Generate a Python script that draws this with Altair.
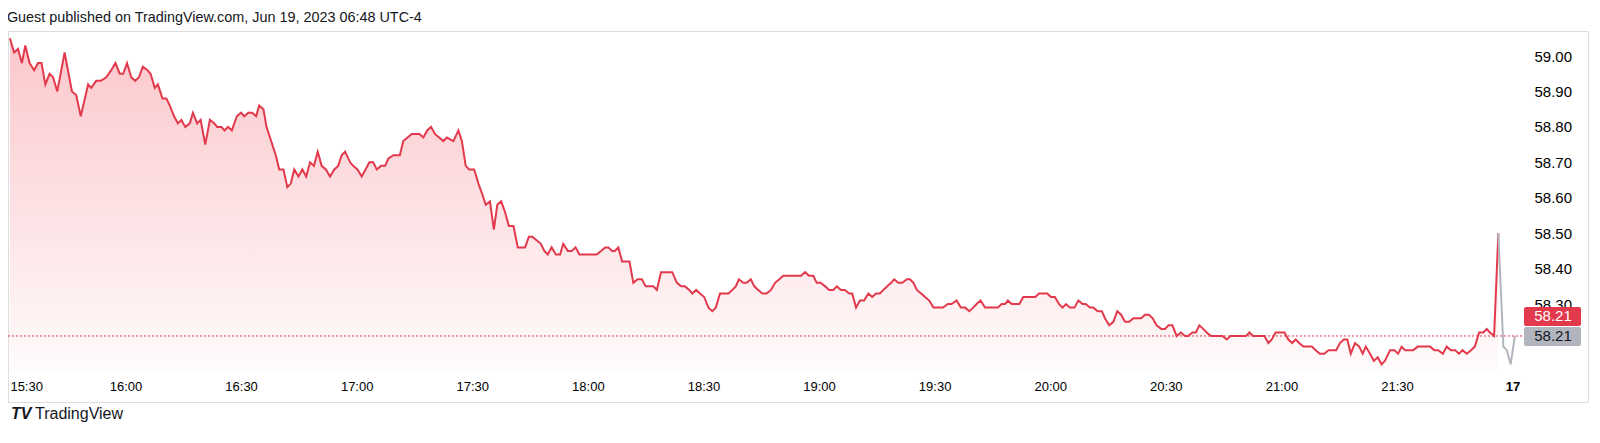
import altair as alt
import pandas as pd

title_text = "Guest published on TradingView.com, Jun 19, 2023 06:48 UTC-4"
brand = "TradingView"

# minutes after 15:30 and last price of the regular session (red series)
minutes = [
    0.0, 1.1, 2.1, 3.1, 4.0, 5.1, 6.3, 7.3, 8.2, 9.2, 10.3, 11.2, 12.3, 14.2, 16.1, 17.2, 18.4,
    20.3, 21.1, 22.4, 23.6, 25.0, 26.3, 27.4, 28.5, 29.4, 30.4, 31.5, 32.5, 33.5, 34.5, 35.7,
    36.5, 37.6, 38.4, 39.6, 40.6, 41.5, 42.6, 43.6, 44.5, 45.5, 46.7, 47.5, 48.6, 49.5, 50.7,
    51.9, 53.0, 53.8, 54.9, 55.7, 56.6, 57.6, 58.9, 60.0, 60.8, 61.9, 62.9, 63.9, 64.7, 65.8,
    66.6, 67.5, 68.4, 69.0, 69.9, 71.0, 72.0, 72.9, 73.8, 74.9, 75.9, 76.9, 77.9, 78.9, 79.9,
    80.9, 82.0, 83.1, 84.2, 85.2, 86.1, 87.0, 88.3, 89.1, 90.2, 91.3, 92.3, 93.3, 94.3, 95.2,
    96.3, 97.4, 98.2, 99.5, 100.4, 101.2, 102.1, 103.2, 104.3, 105.3, 106.3, 107.3, 108.3,
    109.3, 110.3, 111.4, 112.5, 113.4, 115.1, 116.4, 117.3, 118.3, 119.2, 120.5, 121.6, 122.6,
    123.5, 124.6, 125.6, 126.5, 127.5, 128.5, 129.5, 130.7, 131.8, 132.8, 133.7, 134.7, 135.6,
    136.7, 137.8, 138.7, 139.6, 140.6, 141.7, 142.8, 143.6, 144.8, 145.8, 146.8, 147.8, 149.3,
    151.0, 152.3, 153.4, 154.5, 155.3, 156.3, 157.0, 157.9, 158.9, 159.8, 160.8, 161.8, 162.9,
    164.0, 165.0, 166.1, 167.0, 167.9, 169.0, 170.0, 170.9, 171.9, 173.1, 174.2, 175.2, 176.3,
    177.1, 178.1, 179.1, 180.2, 181.3, 182.3, 183.2, 184.3, 185.3, 186.5, 187.5, 188.4, 189.2,
    190.3, 191.2, 192.3, 193.2, 194.2, 195.3, 196.4, 197.5, 198.6, 199.7, 200.7, 201.6, 202.7,
    203.8, 204.5, 205.3, 206.4, 207.4, 208.5, 209.4, 210.4, 211.6, 212.6, 213.7, 214.6, 215.7,
    216.7, 217.8, 218.6, 219.6, 220.6, 221.7, 222.8, 223.8, 224.8, 225.8, 226.7, 227.7, 228.7,
    229.5, 230.6, 231.6, 232.8, 233.6, 234.5, 235.4, 236.5, 237.5, 238.6, 239.7, 240.9, 242.2,
    243.4, 244.4, 245.7, 246.8, 247.9, 249.0, 250.0, 250.9, 251.9, 253.1, 254.2, 255.2, 256.4,
    257.4, 258.3, 259.0, 260.0, 261.1, 262.0, 263.0, 264.1, 265.2, 266.1, 267.1, 268.2, 269.2,
    270.2, 271.2, 272.3, 273.2, 274.1, 275.1, 276.3, 277.3, 278.4, 279.2, 280.3, 281.2, 282.3,
    283.4, 284.2, 285.3, 286.4, 287.4, 288.4, 289.4, 290.5, 291.6, 292.6, 293.6, 294.6, 295.6,
    296.6, 297.6, 298.8, 299.8, 300.7, 301.7, 302.8, 303.9, 305.0, 305.8, 306.9, 307.8, 308.7,
    309.7, 310.6, 311.7, 312.8, 313.8, 314.7, 315.8, 316.8, 317.8, 318.8, 319.9, 320.8, 321.7,
    322.6, 323.6, 324.6, 325.6, 326.6, 327.5, 328.5, 329.6, 330.8, 331.8, 332.8, 333.7, 334.6,
    335.7, 336.8, 337.9, 338.9, 340.0, 341.1, 342.2, 343.2, 344.2, 345.2, 346.2, 347.1, 348.0,
    349.1, 350.2, 351.1, 351.9, 353.0, 354.0, 355.0, 356.0, 356.9, 358.2, 359.3, 360.3, 361.2,
    362.1, 363.2, 364.2, 365.4, 366.4, 367.5, 368.6, 369.7, 370.7, 371.9, 372.9, 374.0, 375.1,
    376.1, 377.0, 378.1, 379.2, 380.2, 381.3, 382.4, 383.3, 384.1, 385.2, 386.3,
]
prices = [
    59.05, 59.01, 59.02, 58.98, 59.03, 58.98, 58.96, 58.98, 58.98, 58.92, 58.95, 58.94, 58.90, 59.01, 58.90, 58.89, 58.83,
    58.92, 58.91, 58.93, 58.93, 58.94, 58.96, 58.98, 58.95, 58.95, 58.98, 58.94, 58.93, 58.94, 58.97, 58.96,
    58.95, 58.91, 58.92, 58.88, 58.88, 58.86, 58.83, 58.81, 58.82, 58.80, 58.81, 58.84, 58.81, 58.82, 58.75,
    58.82, 58.81, 58.80, 58.80, 58.79, 58.80, 58.79, 58.83, 58.84, 58.83, 58.84, 58.84, 58.83, 58.86, 58.85,
    58.80, 58.77, 58.74, 58.72, 58.68, 58.68, 58.63, 58.64, 58.68, 58.66, 58.68, 58.66, 58.70, 58.69, 58.73,
    58.69, 58.68, 58.66, 58.68, 58.69, 58.72, 58.73, 58.70, 58.69, 58.68, 58.66, 58.68, 58.70, 58.70, 58.68,
    58.69, 58.69, 58.71, 58.72, 58.72, 58.72, 58.76, 58.77, 58.78, 58.78, 58.78, 58.77, 58.79,
    58.80, 58.78, 58.77, 58.76, 58.77, 58.76, 58.79, 58.76, 58.69, 58.68, 58.68, 58.64, 58.61,
    58.58, 58.59, 58.51, 58.58, 58.59, 58.56, 58.52, 58.52, 58.46, 58.46, 58.46, 58.49, 58.49,
    58.48, 58.47, 58.45, 58.44, 58.46, 58.44, 58.44, 58.47, 58.45, 58.45, 58.46, 58.44, 58.44,
    58.44, 58.44, 58.45, 58.46, 58.46, 58.45, 58.45, 58.46, 58.42, 58.42, 58.42, 58.36, 58.37,
    58.37, 58.35, 58.35, 58.35, 58.34, 58.39, 58.39, 58.39, 58.39, 58.36, 58.35, 58.35, 58.34,
    58.33, 58.34, 58.33, 58.32, 58.29, 58.28, 58.29, 58.33, 58.33, 58.33, 58.34, 58.35, 58.37,
    58.36, 58.36, 58.37, 58.35, 58.34, 58.33, 58.33, 58.34, 58.36, 58.37, 58.38, 58.38, 58.38,
    58.38, 58.38, 58.38, 58.39, 58.38, 58.38, 58.36, 58.36, 58.35, 58.34, 58.34, 58.35, 58.34,
    58.34, 58.33, 58.33, 58.29, 58.31, 58.31, 58.33, 58.32, 58.33, 58.33, 58.34, 58.35, 58.36,
    58.37, 58.36, 58.36, 58.37, 58.37, 58.36, 58.34, 58.33, 58.32, 58.31, 58.29, 58.29, 58.29,
    58.30, 58.30, 58.31, 58.29, 58.29, 58.28, 58.29, 58.30, 58.31, 58.29, 58.29, 58.29, 58.29,
    58.30, 58.30, 58.31, 58.30, 58.30, 58.30, 58.32, 58.32, 58.32, 58.32, 58.33, 58.33, 58.33,
    58.32, 58.32, 58.30, 58.29, 58.30, 58.29, 58.29, 58.31, 58.30, 58.30, 58.29, 58.29, 58.28,
    58.28, 58.26, 58.24, 58.25, 58.28, 58.27, 58.25, 58.25, 58.26, 58.26, 58.26, 58.27, 58.27,
    58.26, 58.24, 58.23, 58.23, 58.24, 58.24, 58.21, 58.22, 58.21, 58.21, 58.22, 58.22, 58.24,
    58.23, 58.22, 58.21, 58.21, 58.21, 58.21, 58.20, 58.21, 58.21, 58.21, 58.21, 58.21, 58.22,
    58.21, 58.21, 58.21, 58.21, 58.19, 58.20, 58.22, 58.22, 58.22, 58.20, 58.19, 58.20, 58.19,
    58.18, 58.18, 58.18, 58.17, 58.16, 58.16, 58.17, 58.17, 58.17, 58.19, 58.20, 58.20, 58.16,
    58.19, 58.18, 58.16, 58.18, 58.16, 58.14, 58.15, 58.13, 58.14, 58.17, 58.17, 58.16, 58.18,
    58.17, 58.17, 58.17, 58.18, 58.18, 58.18, 58.18, 58.17, 58.17, 58.16, 58.18, 58.17, 58.17,
    58.16, 58.17, 58.16, 58.17, 58.18, 58.22, 58.22, 58.23, 58.22, 58.21, 58.50,
]

# extended-hours tail (grey series)
ext_minutes = [386.3, 387.6, 388.5, 389.5, 390.6]
ext_prices = [58.50, 58.18, 58.17, 58.13, 58.21]

tick_minutes = [0, 30, 60, 90, 120, 150, 180, 210, 240, 270, 300, 330, 360, 390]
tick_labels = ["15:30", "16:00", "16:30", "17:00", "17:30", "18:00", "18:30",
               "19:00", "19:30", "20:00", "20:30", "21:00", "21:30", "17"]
price_ticks = [58.30, 58.40, 58.50, 58.60, 58.70, 58.80, 58.90, 59.00]
last_close = 58.21
last_ext = 58.21

FONT = "Liberation Sans"
TEXT = "#131722"
RED = "#E23A4C"
GREY = "#B2B5BE"
W, H = 1580, 371

main = pd.DataFrame({"minute": minutes, "price": prices})
ext = pd.DataFrame({"minute": ext_minutes, "price": ext_prices})
close_df = pd.DataFrame({"price": [last_close], "label": [f"{last_close:.2f}"]})
ext_df = pd.DataFrame({"price": [last_ext], "label": [f"{last_ext:.2f}"]})
brand_df = pd.DataFrame({"t": [brand]})
logo_df = pd.DataFrame({"t": ["TV"]})

xscale = alt.Scale(domain=[0, 390], range=[1.9, 1504.6], nice=False, zero=False)
yscale = alt.Scale(domain=[58.10, 59.05], range=[343.96, 7.28], nice=False, zero=False)

label_array = "[" + ",".join(f"'{s}'" for s in tick_labels) + "]"
minute_array = "[" + ",".join(str(m) for m in tick_minutes) + "]"

xaxis = alt.Axis(
    values=tick_minutes,
    labelExpr=f"{label_array}[indexof({minute_array}, datum.value)]",
    orient="bottom", offset=-22, labelPadding=0, ticks=False, domain=False,
    grid=False, title=None, labelFontSize=13, labelOverlap=False,
    labelAlign={"condition": {"test": f"datum.value == {tick_minutes[0]}", "value": "left"}, "value": "center"},
    labelFontWeight={"condition": {"test": f"datum.value == {tick_minutes[-1]}", "value": "bold"}, "value": "normal"},
)
yaxis = alt.Axis(
    orient="right", values=price_ticks, format=".2f", offset=-54, labelPadding=0,
    ticks=False, domain=False, grid=False, title=None, labelAlign="left",
    labelBaseline="middle", labelFontSize=15, labelOverlap=False,
)

X = alt.X("minute:Q", scale=xscale, axis=xaxis)
Y = alt.Y("price:Q", scale=yscale, axis=yaxis, stack=None)

gradient = alt.Gradient(
    gradient="linear",
    stops=[alt.GradientStop(color="rgba(242,54,69,0.28)", offset=0),
           alt.GradientStop(color="rgba(242,54,69,0.02)", offset=1)],
    x1=1, x2=1, y1=0, y2=1,
)

area = alt.Chart(main).mark_area(fill=gradient).encode(x=X, y=Y, y2=alt.value(341))
line = alt.Chart(main).mark_line(color=RED, strokeWidth=2).encode(x=X, y=Y)
ext_line = alt.Chart(ext).mark_line(color=GREY, strokeWidth=2).encode(x=X, y=Y)

rule = alt.Chart(close_df).mark_rule(color=RED, strokeDash=[2, 2], strokeWidth=1).encode(
    y=Y, x=alt.value(0), x2=alt.value(1516))

red_box = alt.Chart(close_df).mark_rect(color=RED, cornerRadius=2, yOffset=-29, y2Offset=-10).encode(
    y=Y, y2=alt.Y2("price:Q"), x=alt.value(1516), x2=alt.value(1573))
red_txt = alt.Chart(close_df).mark_text(color="white", fontSize=15, font=FONT, dy=-19.5,
                                        align="center", baseline="middle").encode(
    y=Y, x=alt.value(1545), text="label:N")
grey_box = alt.Chart(ext_df).mark_rect(color=GREY, cornerRadius=2, yOffset=-9, y2Offset=10).encode(
    y=Y, y2=alt.Y2("price:Q"), x=alt.value(1516), x2=alt.value(1573))
grey_txt = alt.Chart(ext_df).mark_text(color=TEXT, fontSize=15, font=FONT, dy=0.5,
                                       align="center", baseline="middle").encode(
    y=Y, x=alt.value(1545), text="label:N")

logo = alt.Chart(logo_df).mark_text(color=TEXT, fontSize=16, font=FONT, fontWeight=900,
                                    fontStyle="italic", align="left", baseline="middle").encode(
    x=alt.value(3), y=alt.value(383), text="t:N")
brand_txt = alt.Chart(brand_df).mark_text(color=TEXT, fontSize=16, font=FONT,
                                          align="left", baseline="middle").encode(
    x=alt.value(27), y=alt.value(383), text="t:N")

chart = alt.layer(
    area, line, ext_line, rule, red_box, red_txt, grey_box, grey_txt, logo, brand_txt
).properties(
    width=W, height=H,
    autosize=alt.AutoSizeParams(type="none"),
    padding={"left": 0, "top": 23, "right": 4, "bottom": 33},
    title=alt.TitleParams(text=title_text, anchor="start", fontSize=14.4, fontWeight="normal",
                          color=TEXT, font=FONT, offset=6, dx=1),
).configure_view(
    stroke="#E0E3EB", strokeWidth=1
).configure_axis(
    labelFont=FONT, labelColor=TEXT
).configure(background="white")

chart.save("out.html", embed_options={"renderer": "svg", "actions": False})
